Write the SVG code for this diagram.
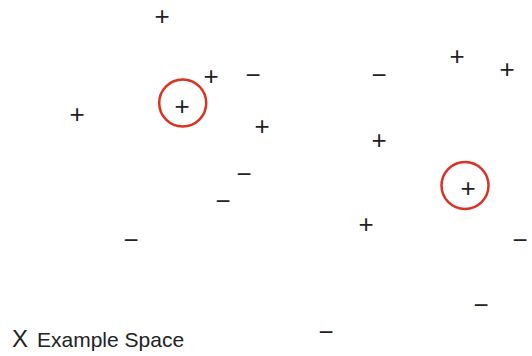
<svg xmlns="http://www.w3.org/2000/svg" width="532" height="356" viewBox="0 0 532 356">
<style>
.s{font-family:"Liberation Sans",Arial,sans-serif;font-size:26px;fill:#222;text-anchor:middle}
.c{fill:none;stroke:#d93323;stroke-width:2.5}
.t{font-family:"Liberation Sans",Arial,sans-serif;fill:#222}
</style>
<rect width="532" height="356" fill="#fff"/>
<g id="circles">
<circle class="c" cx="182.7" cy="103" r="23.5"/>
<circle class="c" cx="465" cy="185.5" r="23.5"/>
</g>
<g id="points">
<text class="s" x="162" y="24.6">+</text>
<text class="s" x="211" y="84.6">+</text>
<text class="s" x="253" y="83.6">−</text>
<text class="s" x="182" y="114.6">+</text>
<text class="s" x="77" y="122.6">+</text>
<text class="s" x="262" y="134.6">+</text>
<text class="s" x="244" y="182.6">−</text>
<text class="s" x="457" y="64.6">+</text>
<text class="s" x="507" y="77.6">+</text>
<text class="s" x="379" y="83.6">−</text>
<text class="s" x="379" y="148.6">+</text>
<text class="s" x="468" y="196.6">+</text>
<text class="s" x="223" y="209.6">−</text>
<text class="s" x="131" y="248.6">−</text>
<text class="s" x="366" y="232.6">+</text>
<text class="s" x="520" y="248.6">−</text>
<text class="s" x="481" y="313.6">−</text>
<text class="s" x="326" y="340.6">−</text>
</g>
<g id="label">
<text class="t" x="12" y="347" font-size="24">X</text>
<text class="t" x="37" y="347" font-size="21">Example Space</text>
</g>
</svg>
